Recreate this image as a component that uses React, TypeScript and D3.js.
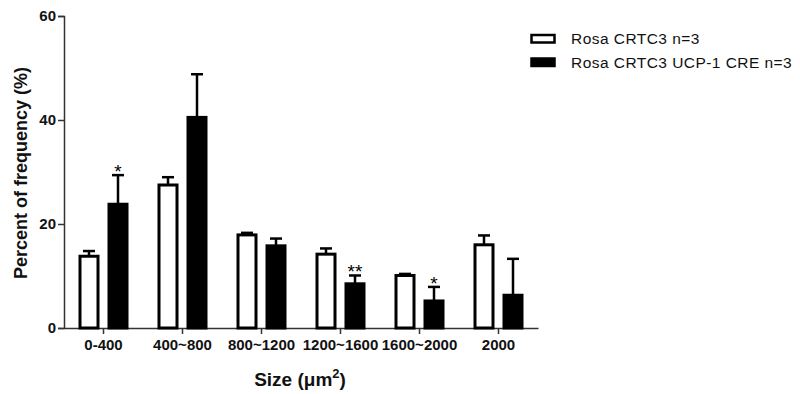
import { useEffect, useRef } from 'react';
import * as d3 from 'd3';

const categories = ['0-400', '400~800', '800~1200', '1200~1600', '1600~2000', '2000'];
const seriesNames = ['Rosa CRTC3 n=3', 'Rosa CRTC3 UCP-1 CRE n=3'];
const controlMean = [13.8, 27.5, 17.9, 14.2, 10.1, 16.0];
const controlErr = [1.0, 1.5, 0.4, 1.1, 0.3, 1.8];
const creMean = [23.8, 40.5, 15.8, 8.5, 5.2, 6.3];
const creErr = [5.6, 8.3, 1.4, 1.6, 2.7, 7.0];
const significance = ['*', '', '', '**', '*', ''];
const yTicks = [0, 20, 40, 60];

export default function App() {
  const ref = useRef<SVGSVGElement>(null);

  useEffect(() => {
    const svg = d3.select(ref.current);
    svg.selectAll('*').remove();

    const x = d3.scaleBand().domain(categories).range([64, 538]);
    const y = d3.scaleLinear().domain([0, 60]).range([328, 16]);
    const barW = 21;
    const offset = 14.5;
    const font = "'Liberation Sans', Arial, sans-serif";

    // axes
    const yAxis = svg.append('g').attr('transform', 'translate(64,0)')
      .call(d3.axisLeft(y).tickValues(yTicks).tickSize(6).tickFormat(d3.format('d')));
    yAxis.select('.domain').attr('stroke', '#333').attr('stroke-width', 1.5);
    yAxis.selectAll('.tick line').attr('stroke', '#333').attr('stroke-width', 1.5);
    yAxis.selectAll('.tick text')
      .attr('font-family', font).attr('font-size', 15).attr('font-weight', 'bold').attr('fill', '#111').attr('x', -8);

    const xAxis = svg.append('g').attr('transform', 'translate(0,328)')
      .call(d3.axisBottom(x).tickSize(6).tickSizeOuter(0));
    xAxis.select('.domain').attr('stroke', '#333').attr('stroke-width', 1.5);
    xAxis.selectAll('.tick line').attr('stroke', '#333').attr('stroke-width', 1.5);
    xAxis.selectAll('.tick text')
      .attr('font-family', font).attr('font-size', 15).attr('font-weight', 'bold').attr('fill', '#111').attr('y', 11);

    const groups = [
      { mean: controlMean, err: controlErr, fill: '#fff', dx: -offset },
      { mean: creMean, err: creErr, fill: '#000', dx: offset },
    ];

    groups.forEach(g => {
      const layer = svg.append('g');
      categories.forEach((c, i) => {
        const cx = (x(c) as number) + x.bandwidth() / 2 + g.dx;
        const top = y(g.mean[i]);
        const errTop = y(g.mean[i] + g.err[i]);
        layer.append('line')
          .attr('x1', cx).attr('x2', cx).attr('y1', top).attr('y2', errTop)
          .attr('stroke', '#000').attr('stroke-width', 2.5);
        layer.append('line')
          .attr('x1', cx - 6).attr('x2', cx + 6).attr('y1', errTop).attr('y2', errTop)
          .attr('stroke', '#000').attr('stroke-width', 2.5);
        layer.append('rect')
          .attr('x', cx - barW / 2 + 1.5).attr('y', top)
          .attr('width', barW - 3).attr('height', y(0) - top)
          .attr('fill', g.fill).attr('stroke', '#000').attr('stroke-width', 3);
      });
    });

    // significance stars
    categories.forEach((c, i) => {
      if (!significance[i]) return;
      const cx = (x(c) as number) + x.bandwidth() / 2 + offset;
      svg.append('text')
        .attr('x', cx).attr('y', y(creMean[i] + creErr[i]) + 3)
        .attr('text-anchor', 'middle').attr('font-family', font).attr('font-size', 19)
        .attr('fill', '#000').text(significance[i]);
    });

    // axis titles
    svg.append('text')
      .attr('transform', 'translate(27,173) rotate(-90)')
      .attr('text-anchor', 'middle').attr('font-family', font).attr('font-size', 18)
      .attr('font-weight', 'bold').attr('fill', '#111').text('Percent of frequency (%)');

    const xt = svg.append('text')
      .attr('x', 300).attr('y', 386).attr('text-anchor', 'middle')
      .attr('font-family', font).attr('font-size', 19).attr('font-weight', 'bold').attr('fill', '#111');
    xt.append('tspan').text('Size (\u03bcm');
    xt.append('tspan').attr('dy', -8).attr('font-size', 13).text('2');
    xt.append('tspan').attr('dy', 8).text(')');

    // legend
    const legend = svg.append('g');
    seriesNames.forEach((name, i) => {
      const base = 44 + i * 23.5;
      legend.append('rect')
        .attr('x', 531.5).attr('y', base - 9).attr('width', 23).attr('height', 7.5)
        .attr('fill', i === 0 ? '#fff' : '#000').attr('stroke', '#000').attr('stroke-width', 2.5);
      legend.append('text')
        .attr('x', 571).attr('y', base).attr('font-family', font)
        .attr('font-size', 15.5).attr('letter-spacing', 0.45).attr('fill', '#111').text(name);
    });
  }, []);

  return (
    <div style={{ margin: -8, background: '#fff' }}>
      <svg ref={ref} width={800} height={394} />
    </div>
  );
}
